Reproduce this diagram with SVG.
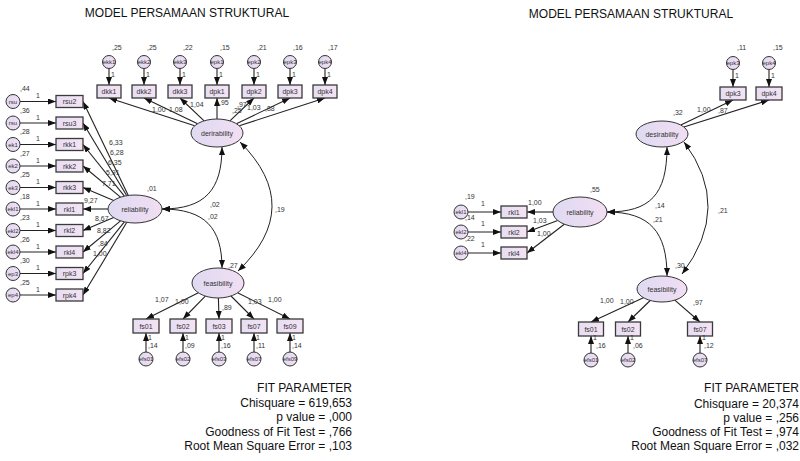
<svg xmlns="http://www.w3.org/2000/svg" width="800" height="461" viewBox="0 0 800 461">
<defs>
<linearGradient id="gb" x1="0" y1="0" x2="1" y2="0"><stop offset="0" stop-color="#e6def4"/><stop offset="1" stop-color="#f4e3f2"/></linearGradient>
<linearGradient id="ge" x1="0" y1="0" x2="1" y2="0"><stop offset="0" stop-color="#dedaf2"/><stop offset="1" stop-color="#f2def2"/></linearGradient>
<marker id="ah" viewBox="0 0 10 10" refX="10" refY="5" markerWidth="8" markerHeight="6" markerUnits="userSpaceOnUse" orient="auto-start-reverse" preserveAspectRatio="none"><path d="M0,0 L10,5 L0,10 z" fill="#111"/></marker>
<style>
.box{fill:url(#gb);stroke:#3a3a3a;stroke-width:1.3}
.lat{fill:url(#ge);stroke:#333;stroke-width:1}
.err{fill:url(#ge);stroke:#333;stroke-width:1}
.t{font-family:"Liberation Sans",Arial,sans-serif;font-size:7px;fill:#333}
.s{font-size:6px}
.m{text-anchor:middle}
.p{stroke:#222;stroke-width:1.1;fill:none;marker-end:url(#ah)}
.c{stroke:#222;stroke-width:1;fill:none;marker-start:url(#ah);marker-end:url(#ah)}
.ttl{font-family:"Liberation Sans",Arial,sans-serif;font-size:12px;fill:#111;text-anchor:middle}
.fit{font-family:"Liberation Sans",Arial,sans-serif;font-size:12px;fill:#111;text-anchor:end}
</style>
</defs>
<rect width="800" height="461" fill="#fff"/>
<text class="ttl" x="187" y="17">MODEL PERSAMAAN STRUKTURAL</text>
<text class="ttl" x="631" y="18">MODEL PERSAMAAN STRUKTURAL</text>

<!-- LEFT connectors -->
<g id="connectors-left">
<line class="p" x1="109" y1="68.5" x2="109" y2="85"/>
<line class="p" x1="144" y1="68.5" x2="144" y2="85"/>
<line class="p" x1="180" y1="68.5" x2="180" y2="85"/>
<line class="p" x1="217" y1="68.5" x2="217" y2="85"/>
<line class="p" x1="254" y1="68.5" x2="254" y2="85"/>
<line class="p" x1="290" y1="68.5" x2="290" y2="85"/>
<line class="p" x1="325" y1="68.5" x2="325" y2="85"/>
<line class="p" x1="194.7" y1="125.8" x2="109" y2="98"/>
<line class="p" x1="197.6" y1="123.7" x2="144" y2="98"/>
<line class="p" x1="204.1" y1="120.8" x2="180" y2="98"/>
<line class="p" x1="217" y1="119" x2="217" y2="98"/>
<line class="p" x1="229.9" y1="120.8" x2="254" y2="98"/>
<line class="p" x1="236.4" y1="123.7" x2="290" y2="98"/>
<line class="p" x1="239.3" y1="125.8" x2="325" y2="98"/>
<line class="p" x1="20" y1="101.5" x2="56" y2="101.5"/>
<line class="p" x1="20" y1="123" x2="56" y2="123"/>
<line class="p" x1="20" y1="144.5" x2="56" y2="144.5"/>
<line class="p" x1="20" y1="166" x2="56" y2="166"/>
<line class="p" x1="20" y1="187.5" x2="56" y2="187.5"/>
<line class="p" x1="20" y1="209" x2="56" y2="209"/>
<line class="p" x1="20" y1="230.5" x2="56" y2="230.5"/>
<line class="p" x1="20" y1="252" x2="56" y2="252"/>
<line class="p" x1="20" y1="273.5" x2="56" y2="273.5"/>
<line class="p" x1="20" y1="295" x2="56" y2="295"/>
<line class="p" x1="128.3" y1="195.4" x2="83" y2="101.5"/>
<line class="p" x1="126.8" y1="195.7" x2="83" y2="123"/>
<line class="p" x1="124.4" y1="196.1" x2="83" y2="144.5"/>
<line class="p" x1="120.5" y1="197.2" x2="83" y2="166"/>
<line class="p" x1="113.7" y1="200.4" x2="83" y2="187.5"/>
<line class="p" x1="108" y1="209" x2="83" y2="209"/>
<line class="p" x1="113.7" y1="217.6" x2="83" y2="230.5"/>
<line class="p" x1="120.5" y1="220.8" x2="83" y2="252"/>
<line class="p" x1="124.4" y1="221.9" x2="83" y2="273.5"/>
<line class="p" x1="126.8" y1="222.3" x2="83" y2="295"/>
<line class="p" x1="198.4" y1="292.8" x2="146" y2="319"/>
<line class="p" x1="205.3" y1="296.1" x2="183" y2="319"/>
<line class="p" x1="218.4" y1="298" x2="219" y2="319"/>
<line class="p" x1="231" y1="296" x2="254" y2="319"/>
<line class="p" x1="237.6" y1="292.8" x2="290" y2="319"/>
<line class="p" x1="146" y1="352" x2="146" y2="333"/>
<line class="p" x1="183" y1="352" x2="183" y2="333"/>
<line class="p" x1="219" y1="352" x2="219" y2="333"/>
<line class="p" x1="254" y1="352" x2="254" y2="333"/>
<line class="p" x1="290" y1="352" x2="290" y2="333"/>
<path class="c" d="M162,209 C205,209 222,190 222,147"/>
<path class="c" d="M162,209 C205,209 222,228 222,268"/>
<path class="c" d="M240,142 Q305,207 238,271"/>
</g>

<!-- LEFT nodes -->
<g id="L-derirability"><ellipse class="lat" cx="217" cy="133" rx="26" ry="14"/><text class="t m" x="217" y="135.5">derirability</text></g>
<g id="L-reliability"><ellipse class="lat" cx="135" cy="209" rx="27" ry="14"/><text class="t m" x="135" y="211.5">reliability</text></g>
<g id="L-feasibility"><ellipse class="lat" cx="218" cy="283" rx="26" ry="15"/><text class="t m" x="218" y="285.5">feasibility</text></g>

<g id="L-dkk1"><rect class="box" x="97" y="85" width="24" height="13"/><text class="t m" x="109" y="94">dkk1</text></g>
<g id="L-dkk2"><rect class="box" x="132" y="85" width="24" height="13"/><text class="t m" x="144" y="94">dkk2</text></g>
<g id="L-dkk3"><rect class="box" x="168" y="85" width="24" height="13"/><text class="t m" x="180" y="94">dkk3</text></g>
<g id="L-dpk1"><rect class="box" x="205" y="85" width="24" height="13"/><text class="t m" x="217" y="94">dpk1</text></g>
<g id="L-dpk2"><rect class="box" x="242" y="85" width="24" height="13"/><text class="t m" x="254" y="94">dpk2</text></g>
<g id="L-dpk3"><rect class="box" x="278" y="85" width="24" height="13"/><text class="t m" x="290" y="94">dpk3</text></g>
<g id="L-dpk4"><rect class="box" x="313" y="85" width="24" height="13"/><text class="t m" x="325" y="94">dpk4</text></g>

<g id="L-ekk1"><circle class="err" cx="109" cy="62" r="6.5"/><text class="t s m" x="109" y="64">ekk1</text></g>
<g id="L-ekk2"><circle class="err" cx="144" cy="62" r="6.5"/><text class="t s m" x="144" y="64">ekk2</text></g>
<g id="L-ekk3"><circle class="err" cx="180" cy="62" r="6.5"/><text class="t s m" x="180" y="64">ekk3</text></g>
<g id="L-epk1"><circle class="err" cx="217" cy="62" r="6.5"/><text class="t s m" x="217" y="64">epk1</text></g>
<g id="L-epk2"><circle class="err" cx="254" cy="62" r="6.5"/><text class="t s m" x="254" y="64">epk2</text></g>
<g id="L-epk3"><circle class="err" cx="290" cy="62" r="6.5"/><text class="t s m" x="290" y="64">epk3</text></g>
<g id="L-epk4"><circle class="err" cx="325" cy="62" r="6.5"/><text class="t s m" x="325" y="64">epk4</text></g>

<g id="L-rsu2"><rect class="box" x="56" y="95.5" width="27" height="12"/><text class="t m" x="69.5" y="104">rsu2</text></g>
<g id="L-rsu3"><rect class="box" x="56" y="117" width="27" height="12"/><text class="t m" x="69.5" y="125.5">rsu3</text></g>
<g id="L-rkk1"><rect class="box" x="56" y="138.5" width="27" height="12"/><text class="t m" x="69.5" y="147">rkk1</text></g>
<g id="L-rkk2"><rect class="box" x="56" y="160" width="27" height="12"/><text class="t m" x="69.5" y="168.5">rkk2</text></g>
<g id="L-rkk3"><rect class="box" x="56" y="181.5" width="27" height="12"/><text class="t m" x="69.5" y="190">rkk3</text></g>
<g id="L-rkl1"><rect class="box" x="56" y="203" width="27" height="12"/><text class="t m" x="69.5" y="211.5">rkl1</text></g>
<g id="L-rkl2"><rect class="box" x="56" y="224.5" width="27" height="12"/><text class="t m" x="69.5" y="233">rkl2</text></g>
<g id="L-rkl4"><rect class="box" x="56" y="246" width="27" height="12"/><text class="t m" x="69.5" y="254.5">rkl4</text></g>
<g id="L-rpk3"><rect class="box" x="56" y="267.5" width="27" height="12"/><text class="t m" x="69.5" y="276">rpk3</text></g>
<g id="L-rpk4"><rect class="box" x="56" y="289" width="27" height="12"/><text class="t m" x="69.5" y="297.5">rpk4</text></g>

<g id="L-ersu2"><circle class="err" cx="13" cy="101.5" r="7"/><text class="t s m" x="13" y="103.5">rsu</text></g>
<g id="L-ersu3"><circle class="err" cx="13" cy="123" r="7"/><text class="t s m" x="13" y="125">rsu</text></g>
<g id="L-ek1"><circle class="err" cx="13" cy="144.5" r="7"/><text class="t s m" x="13" y="146.5">ek1</text></g>
<g id="L-ek2"><circle class="err" cx="13" cy="166" r="7"/><text class="t s m" x="13" y="168">ek2</text></g>
<g id="L-ek3"><circle class="err" cx="13" cy="187.5" r="7"/><text class="t s m" x="13" y="189.5">ek3</text></g>
<g id="L-ekl1"><circle class="err" cx="13" cy="209" r="7"/><text class="t s m" x="13" y="211">ekl1</text></g>
<g id="L-ekl2"><circle class="err" cx="13" cy="230.5" r="7"/><text class="t s m" x="13" y="232.5">ekl2</text></g>
<g id="L-ekl4"><circle class="err" cx="13" cy="252" r="7"/><text class="t s m" x="13" y="254">ekl4</text></g>
<g id="L-ep3"><circle class="err" cx="13" cy="273.5" r="7"/><text class="t s m" x="13" y="275.5">ep3</text></g>
<g id="L-ep4"><circle class="err" cx="13" cy="295" r="7"/><text class="t s m" x="13" y="297">ep4</text></g>

<g id="L-fs01"><rect class="box" x="133" y="319" width="26" height="14"/><text class="t m" x="146" y="328.5">fs01</text></g>
<g id="L-fs02"><rect class="box" x="170" y="319" width="26" height="14"/><text class="t m" x="183" y="328.5">fs02</text></g>
<g id="L-fs03"><rect class="box" x="206" y="319" width="26" height="14"/><text class="t m" x="219" y="328.5">fs03</text></g>
<g id="L-fs07"><rect class="box" x="241" y="319" width="26" height="14"/><text class="t m" x="254" y="328.5">fs07</text></g>
<g id="L-fs09"><rect class="box" x="277" y="319" width="26" height="14"/><text class="t m" x="290" y="328.5">fs09</text></g>

<g id="L-efs01"><circle class="err" cx="146" cy="359" r="7"/><text class="t s m" x="146" y="361">efs01</text></g>
<g id="L-efs02"><circle class="err" cx="183" cy="359" r="7"/><text class="t s m" x="183" y="361">efs02</text></g>
<g id="L-efs03"><circle class="err" cx="219" cy="359" r="7"/><text class="t s m" x="219" y="361">efs03</text></g>
<g id="L-efs07"><circle class="err" cx="254" cy="359" r="7"/><text class="t s m" x="254" y="361">efs07</text></g>
<g id="L-efs09"><circle class="err" cx="290" cy="359" r="7"/><text class="t s m" x="290" y="361">efs09</text></g>

<!-- LEFT labels -->
<g id="L-labels" class="t">
<text x="112" y="50">,25</text><text x="147" y="50">,25</text><text x="183" y="50">,22</text><text x="220" y="50">,15</text><text x="257" y="50">,21</text><text x="293" y="50">,16</text><text x="328" y="50">,17</text>
<text x="111" y="77">1</text><text x="146" y="77">1</text><text x="182" y="77">1</text><text x="219" y="77">1</text><text x="256" y="77">1</text><text x="292" y="77">1</text><text x="327" y="77">1</text>
<text x="152" y="112">1,00</text><text x="169" y="112">1,08</text><text x="190" y="107">1,04</text><text x="219" y="105">,95</text><text x="232" y="113">,25</text><text x="237" y="107">,97</text><text x="247" y="110">1,03</text><text x="265" y="111">,88</text>
<text x="20" y="91">,44</text><text x="20" y="112.5">,36</text><text x="20" y="134">,28</text><text x="20" y="155.5">,27</text><text x="20" y="177">,25</text><text x="20" y="198.5">,18</text><text x="20" y="220">,23</text><text x="20" y="241.5">,26</text><text x="20" y="263">,30</text><text x="20" y="284.5">,25</text>
<text x="36" y="98">1</text><text x="36" y="119.5">1</text><text x="36" y="141">1</text><text x="36" y="162.5">1</text><text x="36" y="184">1</text><text x="36" y="205.5">1</text><text x="36" y="227">1</text><text x="36" y="248.5">1</text><text x="36" y="270">1</text><text x="36" y="291.5">1</text>
<text x="109" y="145">6,33</text><text x="110" y="155">6,28</text><text x="108" y="164.5">6,35</text><text x="106" y="175">5,91</text><text x="102" y="186">7,71</text>
<text x="84" y="203">9,27</text><text x="95" y="221">8,67</text><text x="97" y="233">8,82</text><text x="98" y="246">,84</text><text x="93" y="256">1,00</text>
<text x="147" y="191">,01</text>
<text x="210" y="207">,02</text><text x="208" y="219">,02</text>
<text x="275" y="212">,19</text>
<text x="228" y="268">,27</text>
<text x="155" y="302">1,07</text><text x="175" y="304">1,00</text><text x="222" y="310">,89</text><text x="248" y="304">1,03</text><text x="268" y="302">1,00</text>
<text x="148" y="340">1</text><text x="185" y="340">1</text><text x="221" y="340">1</text><text x="256" y="340">1</text><text x="292" y="340">1</text>
<text x="148" y="348">,14</text><text x="185" y="348">,09</text><text x="221" y="348">,16</text><text x="256" y="348">,11</text><text x="292" y="348">,14</text>
</g>

<g id="L-fit">
<text class="fit" x="352" y="392">FIT PARAMETER</text>
<text class="fit" x="352" y="407">Chisquare = 619,653</text>
<text class="fit" x="352" y="421">p value = ,000</text>
<text class="fit" x="352" y="436">Goodness of Fit Test = ,766</text>
<text class="fit" x="352" y="450">Root Mean Square Error = ,103</text>
</g>

<!-- RIGHT connectors -->
<g id="connectors-right">
<line class="p" x1="733" y1="69.5" x2="733" y2="87"/>
<line class="p" x1="769" y1="69.5" x2="769" y2="87"/>
<line class="p" x1="680.8" y1="125" x2="733" y2="100"/>
<line class="p" x1="683.9" y1="127" x2="769" y2="100"/>
<line class="p" x1="468" y1="212" x2="501" y2="212"/>
<line class="p" x1="468" y1="232" x2="501" y2="232"/>
<line class="p" x1="468" y1="253" x2="501" y2="253"/>
<line class="p" x1="553" y1="212" x2="527" y2="212"/>
<line class="p" x1="557.7" y1="220.4" x2="527" y2="232"/>
<line class="p" x1="564.3" y1="224.2" x2="527" y2="253"/>
<line class="p" x1="643.4" y1="297.7" x2="591" y2="322"/>
<line class="p" x1="650.2" y1="300.5" x2="628" y2="322"/>
<line class="p" x1="674.8" y1="300.2" x2="700" y2="322"/>
<line class="p" x1="591" y1="353" x2="591" y2="336"/>
<line class="p" x1="628" y1="353" x2="628" y2="336"/>
<line class="p" x1="700" y1="353" x2="700" y2="336"/>
<path class="c" d="M607,212 C650,212 667,195 667,147"/>
<path class="c" d="M607,212 C650,212 667,232 667,276"/>
<path class="c" d="M684,142 Q733,207 682,274"/>
</g>

<!-- RIGHT nodes -->
<g id="R-desirability"><ellipse class="lat" cx="662" cy="134" rx="26" ry="13"/><text class="t m" x="662" y="136.5">desirability</text></g>
<g id="R-reliability"><ellipse class="lat" cx="580" cy="212" rx="27" ry="15"/><text class="t m" x="580" y="214.5">reliability</text></g>
<g id="R-feasibility"><ellipse class="lat" cx="662" cy="289" rx="25" ry="13"/><text class="t m" x="662" y="291.5">feasibility</text></g>

<g id="R-dpk3"><rect class="box" x="720" y="87" width="26" height="13"/><text class="t m" x="733" y="96">dpk3</text></g>
<g id="R-dpk4"><rect class="box" x="756" y="87" width="26" height="13"/><text class="t m" x="769" y="96">dpk4</text></g>
<g id="R-epk3"><circle class="err" cx="733" cy="63" r="6.5"/><text class="t s m" x="733" y="65">epk3</text></g>
<g id="R-epk4"><circle class="err" cx="769" cy="63" r="6.5"/><text class="t s m" x="769" y="65">epk4</text></g>

<g id="R-rkl1"><rect class="box" x="501" y="206" width="26" height="12"/><text class="t m" x="514" y="214.5">rkl1</text></g>
<g id="R-rkl2"><rect class="box" x="501" y="226" width="26" height="12"/><text class="t m" x="514" y="234.5">rkl2</text></g>
<g id="R-rkl4"><rect class="box" x="501" y="247" width="26" height="12"/><text class="t m" x="514" y="255.5">rkl4</text></g>
<g id="R-ekl1"><circle class="err" cx="461" cy="212" r="7"/><text class="t s m" x="461" y="214">ekl1</text></g>
<g id="R-ekl2"><circle class="err" cx="461" cy="232" r="7"/><text class="t s m" x="461" y="234">ekl2</text></g>
<g id="R-ekl4"><circle class="err" cx="461" cy="253" r="7"/><text class="t s m" x="461" y="255">ekl4</text></g>

<g id="R-fs01"><rect class="box" x="578.5" y="322" width="25" height="14"/><text class="t m" x="591" y="331.5">fs01</text></g>
<g id="R-fs02"><rect class="box" x="615.5" y="322" width="25" height="14"/><text class="t m" x="628" y="331.5">fs02</text></g>
<g id="R-fs07"><rect class="box" x="687.5" y="322" width="25" height="14"/><text class="t m" x="700" y="331.5">fs07</text></g>
<g id="R-efs01"><circle class="err" cx="591" cy="360" r="7"/><text class="t s m" x="591" y="362">efs01</text></g>
<g id="R-efs02"><circle class="err" cx="628" cy="360" r="7"/><text class="t s m" x="628" y="362">efs02</text></g>
<g id="R-efs07"><circle class="err" cx="700" cy="360" r="7"/><text class="t s m" x="700" y="362">efs07</text></g>

<g id="R-labels" class="t">
<text x="737" y="50">,11</text><text x="773" y="50">,15</text>
<text x="735" y="78">1</text><text x="771" y="78">1</text>
<text x="697" y="112">1,00</text><text x="718" y="113">,87</text><text x="673" y="115">,32</text>
<text x="465" y="199">,19</text><text x="465" y="220">,14</text><text x="465" y="241">,22</text>
<text x="481" y="206">1</text><text x="481" y="226">1</text><text x="481" y="247">1</text>
<text x="528" y="205">1,00</text><text x="533" y="223">1,03</text><text x="537" y="236">1,00</text>
<text x="590" y="192">,55</text>
<text x="655" y="208">,14</text><text x="653" y="222">,21</text>
<text x="718" y="213">,21</text>
<text x="675" y="268">,30</text>
<text x="600" y="303">1,00</text><text x="620" y="304">1,00</text><text x="693" y="305">,97</text>
<text x="593" y="340">1</text><text x="630" y="340">1</text><text x="702" y="340">1</text>
<text x="596" y="348">,16</text><text x="633" y="348">,06</text><text x="704" y="348">,12</text>
</g>

<g id="R-fit">
<text class="fit" x="799" y="392">FIT PARAMETER</text>
<text class="fit" x="799" y="408">Chisquare = 20,374</text>
<text class="fit" x="799" y="422">p value = ,256</text>
<text class="fit" x="799" y="436">Goodness of Fit Test = ,974</text>
<text class="fit" x="799" y="450">Root Mean Square Error = ,032</text>
</g>
</svg>
